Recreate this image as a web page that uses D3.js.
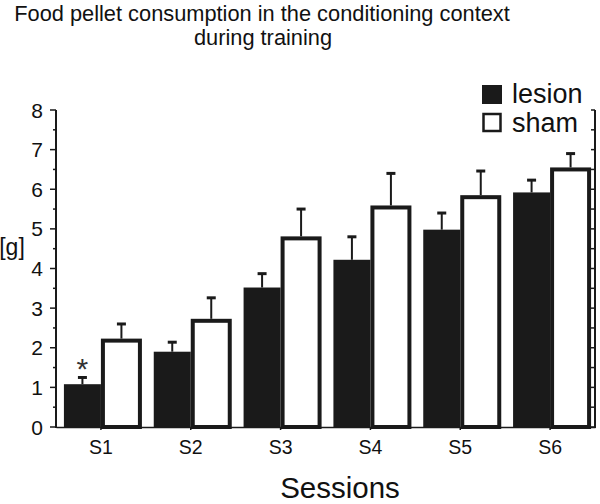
<!DOCTYPE html>
<html><head><meta charset="utf-8">
<script src="https://cdn.jsdelivr.net/npm/d3@7"></script>
<style>html,body{margin:0;padding:0;background:#fff;}svg{display:block;font-family:"Liberation Sans",Arial,Helvetica,sans-serif;}</style>
</head><body><svg id="chart" width="600" height="504"></svg>
<script>
const sessions = ["S1","S2","S3","S4","S5","S6"];
const lesion = [1.08, 1.9, 3.52, 4.22, 4.98, 5.92];
const lesionErr = [0.17, 0.24, 0.35, 0.58, 0.42, 0.31];
const sham = [2.18, 2.68, 4.76, 5.54, 5.8, 6.5];
const shamErr = [0.42, 0.58, 0.74, 0.86, 0.66, 0.4];
const yTicks = [0,1,2,3,4,5,6,7,8];
const seriesNames = ["lesion","sham"];
const sig = [true,false,false,false,false,false];

const svg = d3.select("#chart");
const dark = "#1a1a1a";
const x = d3.scaleBand().domain(sessions).range([56,595]).padding(0);
const y = d3.scaleLinear().domain([0,8]).range([427,110]);
const cx = s => x(s) + x.bandwidth()/2;

// title
svg.append("text").attr("x",262).attr("y",21).attr("text-anchor","middle")
  .attr("font-size",21.8).attr("fill","#111").text("Food pellet consumption in the conditioning context");
svg.append("text").attr("x",263).attr("y",45).attr("text-anchor","middle")
  .attr("font-size",21.8).attr("fill","#111").text("during training");

const g = svg.append("g");
sessions.forEach((s,i)=>{
  const c = cx(s);
  g.append("rect").attr("x",c-37).attr("width",37).attr("y",y(lesion[i])).attr("height",y(0)-y(lesion[i])).attr("fill",dark);
  g.append("rect").attr("x",c+2).attr("width",37).attr("y",y(sham[i])).attr("height",y(0)-y(sham[i]))
    .attr("fill","#fff").attr("stroke",dark).attr("stroke-width",4);
  const ex1 = c-18.5, ex2 = c+20.5;
  g.append("line").attr("x1",ex1).attr("x2",ex1).attr("y1",y(lesion[i])).attr("y2",y(lesion[i]+lesionErr[i])).attr("stroke",dark).attr("stroke-width",2);
  g.append("line").attr("x1",ex1-4.5).attr("x2",ex1+4.5).attr("y1",y(lesion[i]+lesionErr[i])).attr("y2",y(lesion[i]+lesionErr[i])).attr("stroke",dark).attr("stroke-width",3);
  g.append("line").attr("x1",ex2).attr("x2",ex2).attr("y1",y(sham[i])-2).attr("y2",y(sham[i]+shamErr[i])).attr("stroke",dark).attr("stroke-width",2);
  g.append("line").attr("x1",ex2-4.5).attr("x2",ex2+4.5).attr("y1",y(sham[i]+shamErr[i])).attr("y2",y(sham[i]+shamErr[i])).attr("stroke",dark).attr("stroke-width",3);
  if(sig[i]){
    g.append("text").attr("x",ex1).attr("y",y(lesion[i]+lesionErr[i])+2).attr("text-anchor","middle")
      .attr("font-size",30).attr("fill","#333").text("*");
  }
});

const minor = d3.range(0,8.01,0.5);
const axL = svg.append("g");
axL.append("line").attr("x1",56).attr("x2",56).attr("y1",y(8)).attr("y2",y(0)+1).attr("stroke",dark).attr("stroke-width",2);
minor.forEach(v=>{
  const major = Number.isInteger(v);
  axL.append("line").attr("x1",56).attr("x2",major?50:53).attr("y1",y(v)).attr("y2",y(v)).attr("stroke",dark).attr("stroke-width",1.5);
});
yTicks.forEach(v=>{
  axL.append("text").attr("x",43).attr("y",y(v)).attr("dy","0.36em").attr("text-anchor","end")
    .attr("font-size",21).attr("fill","#111").text(v);
});
svg.append("text").attr("x",12).attr("y",247).attr("dy","0.36em").attr("text-anchor","middle").attr("font-size",23).attr("fill","#111").text("[g]");

const axR = svg.append("g");
axR.append("line").attr("x1",595).attr("x2",595).attr("y1",y(8)).attr("y2",y(0)+1).attr("stroke",dark).attr("stroke-width",2);
minor.forEach(v=>{
  axR.append("line").attr("x1",595).attr("x2",591).attr("y1",y(v)).attr("y2",y(v)).attr("stroke",dark).attr("stroke-width",1.5);
});

const axB = svg.append("g").attr("transform",`translate(0,${y(0)})`)
  .call(d3.axisBottom(x).tickSize(3).tickSizeOuter(0).tickPadding(10));
axB.select(".domain").attr("stroke",dark).attr("stroke-width",1.5);
axB.selectAll(".tick line").attr("stroke",dark).attr("stroke-width",1.5);
axB.selectAll(".tick text").attr("font-size",19.5).attr("fill","#111").attr("font-family","Liberation Sans, Arial, sans-serif");

svg.append("text").attr("x",340).attr("y",498).attr("text-anchor","middle").attr("font-size",29.5).attr("fill","#111").text("Sessions");

const leg = svg.append("g");
leg.append("rect").attr("x",482).attr("y",85).attr("width",20).attr("height",19).attr("fill",dark);
leg.append("rect").attr("x",483.5).attr("y",114).attr("width",17).attr("height",17).attr("fill","#fff").attr("stroke",dark).attr("stroke-width",2.5);
leg.append("text").attr("x",512).attr("y",103).attr("font-size",27).attr("fill","#111").text(seriesNames[0]);
leg.append("text").attr("x",512).attr("y",132).attr("font-size",27).attr("fill","#111").text(seriesNames[1]);
</script></body></html>
